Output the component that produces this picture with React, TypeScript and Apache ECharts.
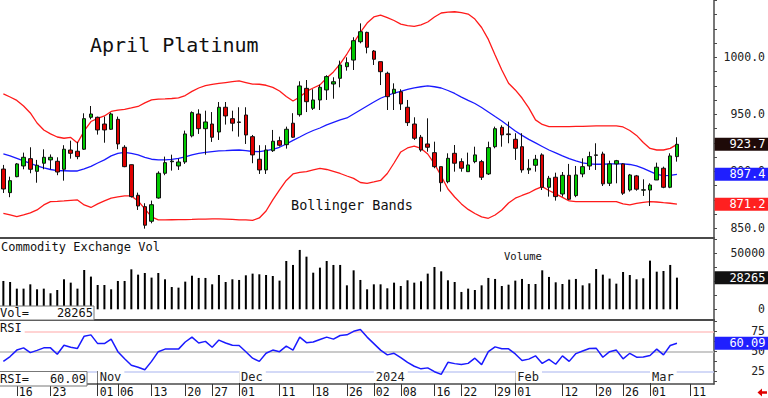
import React, { useEffect, useRef } from 'react';
import * as echarts from 'echarts';

const dates = [
  '2023-10-12','2023-10-13','2023-10-16','2023-10-17','2023-10-18','2023-10-19','2023-10-20','2023-10-23','2023-10-24','2023-10-25',
  '2023-10-26','2023-10-27','2023-10-30','2023-10-31','2023-11-01','2023-11-02','2023-11-03','2023-11-06','2023-11-07','2023-11-08',
  '2023-11-09','2023-11-10','2023-11-13','2023-11-14','2023-11-15','2023-11-16','2023-11-17','2023-11-20','2023-11-21','2023-11-22',
  '2023-11-24','2023-11-27','2023-11-28','2023-11-29','2023-11-30','2023-12-01','2023-12-04','2023-12-05','2023-12-06','2023-12-07',
  '2023-12-08','2023-12-11','2023-12-12','2023-12-13','2023-12-14','2023-12-15','2023-12-18','2023-12-19','2023-12-20','2023-12-21',
  '2023-12-22','2023-12-26','2023-12-27','2023-12-28','2023-12-29','2024-01-02','2024-01-03','2024-01-04','2024-01-05','2024-01-08',
  '2024-01-09','2024-01-10','2024-01-11','2024-01-12','2024-01-16','2024-01-17','2024-01-18','2024-01-19','2024-01-22','2024-01-23',
  '2024-01-24','2024-01-25','2024-01-26','2024-01-29','2024-01-30','2024-01-31','2024-02-01','2024-02-02','2024-02-05','2024-02-06',
  '2024-02-07','2024-02-08','2024-02-09','2024-02-12','2024-02-13','2024-02-14','2024-02-15','2024-02-16','2024-02-20','2024-02-21',
  '2024-02-22','2024-02-23','2024-02-26','2024-02-27','2024-02-28','2024-02-29','2024-03-01','2024-03-04','2024-03-05','2024-03-06',
  '2024-03-07','2024-03-08','2024-03-11','2024-03-12','2024-03-13','2024-03-14',
];

const openP = [
  902,881.3,895.3,904.7,911.1,900,907.1,910,908.8,901.8,
  918.7,917.6,919.4,947.4,947.4,941.5,936.9,945.6,921.1,905.8,
  879,869,856.2,876.6,898.3,908.4,904.7,908.2,931.1,950.3,
  937.4,941.5,934.5,956.2,946.2,943.3,949.4,930.4,910.6,901.2,
  918.1,926.9,923.4,942.2,949.7,972.8,955.3,962.6,971.4,976.6,
  981.6,991.8,997.6,1013.7,1021.9,1005.5,996.2,986,968.5,969.8,
  956.2,941.5,929.9,924,916.4,904.1,890.9,915.8,908.5,899.7,
  908.5,908.5,897.7,921.6,938.6,932.8,928.1,921.6,901.2,905.3,
  914.4,886,894.8,880.1,896.5,878.7,897.7,904.7,914,915.2,
  889.5,906.5,906.5,883.6,896,883.5,883.6,892.4,902.7,886,
  912.9,
];
const closeP = [
  884.5,891.8,906.5,912.3,901.8,905.3,912.3,912.3,899.4,919.4,
  915.8,912.9,946.2,950.3,936.3,936.3,950.3,924,904.1,877.8,
  869.6,852.7,870.7,898.3,907.6,909,908.2,932.8,951.5,937.4,
  943.3,929.9,956.2,948.6,942.2,942.9,931.9,914.4,901.2,918.7,
  926.4,922.9,936.9,929.9,974.9,961.1,962.6,973.7,983.1,978.6,
  993.3,995.3,1014.6,1022.5,1008.8,998.3,987.4,965.5,972,959.1,
  942.7,929,918.7,921.1,904.1,890,911.4,907.1,902.7,905.6,
  914.4,894.8,920.8,937.4,931.9,932.2,920.2,901.2,902.6,910.6,
  886,893.9,877.8,896.5,875.5,896.8,904.1,912.9,914.4,889,
  906.5,909.3,880.8,896.8,884.3,883.8,888,903.6,886,913.5,
  923.7,
];
const lowP = [
  881,877.3,894.8,901.8,898.3,890,901.8,901.8,896.6,891.8,
  911.1,910.6,918.7,945.6,932.2,925.1,936.3,919.4,903.6,877,
  866.1,849.7,854.4,876,896.6,900.6,901.2,906.5,929.8,932.8,
  914.6,925.8,927.5,941,935.1,930.4,924,907.1,897.7,897.7,
  917,921.7,919.9,929.3,948,952,953.8,953.8,962.6,963.7,
  973.7,988.3,988.9,1012.3,1003.5,993.3,975.7,953.8,953.8,953.8,
  939.8,927.5,917.2,917.2,902.7,882.2,889.5,899.7,899.7,899.7,
  907.1,892.4,896.8,920.2,921.6,924.6,910,898.8,897.7,899.7,
  883.6,877.8,874.3,877.8,874.9,877.3,894.8,901.2,901.2,887.1,
  887.1,889.5,879.3,882.2,883,878.4,869.6,892.4,885.2,885.2,
  908.5,
];
const highP = [
  905.6,895.3,907.3,916.4,921.1,910,919.3,914.8,912.3,922.9,
  926.9,925.8,950.9,957.3,948,948,951.5,948,922.9,906,
  881.3,872,874.3,900,912.9,914.6,911.1,935.7,952.6,954.4,
  953.2,952,960.8,960.8,953.2,956.2,956.2,931.9,922.9,922.9,
  936.3,930.4,939.2,951,979,980.1,972,976,984.3,982.5,
  997.1,1000,1017.6,1029.8,1022.5,1006.4,996.2,987.4,977.2,972,
  962.6,947.4,931.9,946.5,926,904.1,915.8,923.1,911.4,916.4,
  921.6,910,926,939.2,940.4,943.6,933.4,933.4,910.6,914.4,
  915.8,896,898.8,899.4,906.5,904.7,911.4,917.2,924.6,917.2,
  909.3,910,907.1,897.7,896.8,893,889.5,907.6,904.1,915.8,
  929.9,
];

const upperBand = [
  967.9,965.2,962.2,957.3,951.2,942.4,936.3,932.8,930.1,929,
  929.7,924.9,935.4,943.7,946.4,948.6,952.5,953.7,954.4,955.6,
  956.9,960,962.6,963.3,963.5,963.9,964.5,966.5,970.1,973.1,
  975.1,976.2,977.2,977.9,978.6,979.3,977.9,976.5,976.4,975.5,
  973.6,970.5,965.7,961.7,965.2,970.1,973.1,975.8,981.9,987.2,
  994.2,1002.9,1012.6,1021.8,1030.1,1035.4,1037.1,1034.9,1032.3,1029.2,
  1027.9,1027.1,1028.4,1031,1035.4,1038.9,1039.6,1040,1039.3,1038,
  1033.6,1026.2,1015.7,1002.1,988.9,977.2,971.4,964.3,955.6,945.1,
  941.1,939.2,939.2,939.2,939.2,939.4,939.5,939.7,939.8,939.8,
  939.8,939.8,938.9,935.8,931.5,925.3,920.1,918.7,918.7,920.1,
  923.6,
];
const middleBand = [
  915.2,913.5,911.3,909.1,906.9,904.7,903,901.6,900.6,900.5,
  900.3,900.3,902.1,904.3,907.3,910,913.5,915.7,916.7,915.7,
  914.4,912.3,910.6,910,910,910.4,911.3,912.6,914.4,915.7,
  916.6,917.3,917.9,918.1,918.5,918.7,918.1,917.4,917.3,918.1,
  919.2,921.1,924,927.1,930.1,933.2,935.8,938,940.7,942.9,
  945.1,946.8,950.3,953.8,957.3,960.8,964.1,966.5,968.7,970.2,
  971.8,973.3,974.2,974.9,974.2,973.1,970.9,968.3,965.1,962.2,
  959.5,956,952.1,948.1,944.2,939.8,935.4,931.5,928,924.9,
  921.8,918.7,916.1,913.5,911.1,909.1,907.5,906.5,906.2,906.2,
  906.5,906.5,906.5,906,904.7,902.5,899.9,897.3,896.2,896.4,
  897.4,
];
const lowerBand = [
  863.2,861.7,860.2,861.7,863.5,866.1,870.5,873.4,873.6,874,
  874.5,874.9,870.5,868.3,871.4,874,876.4,877.5,878.4,878.4,
  874,867,860,857.4,857.4,857.5,857.6,857.7,857.8,858,
  858.1,858.2,858.2,858,857.8,857.4,857.4,856.9,859.1,865.2,
  874.9,883.7,892,897.7,899,899.7,901.2,902.5,901.6,899.9,
  898.1,895.9,893.8,890.2,889.5,890.7,892,898.1,907.3,917,
  920.5,922,920.1,915.2,906.5,895.9,884.5,877.5,871.4,866.6,
  863,860,858.8,861.7,866.1,872.2,876.4,878.8,881,884.1,
  886.6,883.2,880.2,877.1,874,873.4,873.4,873.4,873.4,873.4,
  873.4,873.4,871.4,870.5,871.8,872.8,873.5,873.1,872.5,872,
  871.2,
];

const volumes = [
  25300,24400,18450,18450,22300,17860,18450,14300,17260,26800,
  23800,18450,35100,29200,21700,21700,17860,25300,25300,35700,
  30950,32400,28300,32400,26800,19900,19350,24700,30000,28000,
  28000,22300,30650,24400,26800,26200,30350,31850,31250,30650,
  29760,25600,43150,39600,53000,47000,32700,37200,43150,39600,
  39600,21400,34800,26200,17860,22300,22300,18750,23800,20800,
  25900,23800,25000,31850,37800,33900,25900,24400,15500,18450,
  17260,21400,28000,27100,20800,22000,25600,27100,22600,22600,
  34800,28900,24100,22600,26500,27100,21400,23200,36000,30950,
  27400,22900,33300,30650,26800,27700,43450,33600,34200,39600,
  28265,
];

const rsiValues = [
  37.5,43.5,51.6,54.4,48.4,51.2,54.4,54.4,46.4,57.7,
  55.2,53.6,69,70.6,59.7,59.7,65.3,49.6,40.7,32.6,
  30.2,27,37.5,49.6,52.8,52.8,52.8,61.7,67.8,60.5,
  62.5,55.2,64.1,60.5,57.7,57.3,49.6,41.5,37.5,47.6,
  51.6,49.6,56.5,51.6,67.8,60.9,61.7,64.9,67.8,65.3,
  69.8,70.6,75,77.4,67.8,59.7,51.6,45.6,47.6,42.3,
  36.3,31.4,28.2,29.4,24.6,21.3,36.3,34.7,33.5,35,
  41.5,33.5,49.6,55.6,53.2,53.2,46.8,38.7,40.3,44.4,
  35,39.9,33.9,44.4,37.5,47.2,50.4,53.6,54,42.7,
  49.6,51.6,40.7,47.6,42.7,43.1,44.8,52.8,45.6,57.3,
  60.09,
];

const dayLabelDates = [
  '2023-10-16','2023-10-23','2023-11-01','2023-11-06','2023-11-13','2023-11-20','2023-11-27',
  '2023-12-01','2023-12-11','2023-12-18','2023-12-26','2024-01-02','2024-01-08','2024-01-16',
  '2024-01-22','2024-01-29','2024-02-01','2024-02-12','2024-02-20','2024-02-26','2024-03-01','2024-03-11',
];
const monthStartDates = ['2023-11-01','2023-12-01','2024-01-02','2024-02-01','2024-03-01'];
const monthNames = ['Nov','Dec','2024','Feb','Mar'];

const priceLabels = [850, 900, 950, 1000];
const priceTicks = [850,862.5,875,887.5,900,912.5,925,937.5,950,962.5,975,987.5,1000,1012.5,1025,1037.5,1050];
const volumeLabels = [0, 50000];
const volumeTicks = [0, 12500, 25000, 37500, 50000, 62500];
const rsiLabels = [25, 50, 75];
const rsiTicks = [12.5, 25, 37.5, 50, 62.5, 75, 87.5];

const MONO = '"DejaVu Sans Mono", monospace';
const AXIS_COLOR = '#4a4a4a';
const GRID_LEFT = -3;
const GRID_RIGHT = 53.4;
const BOX_X = 714.6;

export default function App() {
  const ref = useRef<HTMLDivElement>(null);
  useEffect(() => {
    document.body.style.margin = '0';
    const chart = echarts.init(ref.current as HTMLDivElement, null, { renderer: 'svg' });
    const daySet = new Set(dayLabelDates);
    const monthMap = new Map(monthStartDates.map((d, i) => [d, monthNames[i]]));
    const candles = openP.map((o, i) => [o, closeP[i], lowP[i], highP[i]]);

    const hiddenX = (gridIndex: number) => ({
      type: 'category', gridIndex, data: dates, boundaryGap: true,
      axisLine: { show: true, onZero: false, lineStyle: { color: AXIS_COLOR, width: 2 } },
      axisTick: { show: false }, axisLabel: { show: false }, splitLine: { show: false },
    });
    const rightY = (gridIndex: number, min: number, max: number, ticks: number[], labels: number[], fmt: (v: number) => string) => ({
      type: 'value', gridIndex, position: 'right', min, max, scale: true,
      axisLine: { show: true, lineStyle: { color: AXIS_COLOR, width: 1.5 } },
      axisTick: { show: true, customValues: ticks, length: 3, lineStyle: { color: AXIS_COLOR } },
      axisLabel: { customValues: labels, formatter: fmt, align: 'right', margin: 51, fontFamily: MONO, fontSize: 11.5, color: '#222' },
      splitLine: { show: false },
    });

    const option: any = {
      animation: false,
      textStyle: { fontFamily: MONO },
      grid: [
        { left: GRID_LEFT, right: GRID_RIGHT, top: 0, height: 238 },
        { left: GRID_LEFT, right: GRID_RIGHT, top: 239, height: 81 },
        { left: GRID_LEFT, right: GRID_RIGHT, top: 320, height: 66 },
      ],
      xAxis: [
        hiddenX(0),
        hiddenX(1),
        {
          type: 'category', gridIndex: 2, data: dates, boundaryGap: true, position: 'bottom',
          axisLine: { show: true, onZero: false, lineStyle: { color: AXIS_COLOR, width: 1.5 } },
          axisTick: { show: true, alignWithLabel: true, length: 12, interval: (_i: number, v: string) => daySet.has(v), lineStyle: { color: '#333' } },
          axisLabel: {
            interval: (_i: number, v: string) => daySet.has(v), formatter: (v: string) => v.slice(8, 10),
            align: 'left', padding: [0, 0, 0, 2], margin: 2, fontFamily: MONO, fontSize: 11.5, color: '#111',
          },
          splitLine: { show: false },
        },
        {
          type: 'category', gridIndex: 2, data: dates, boundaryGap: true, position: 'bottom', z: 10,
          axisLine: { show: false, onZero: false },
          axisTick: { show: true, inside: true, alignWithLabel: true, length: 13, interval: (_i: number, v: string) => monthMap.has(v), lineStyle: { color: '#333' } },
          axisLabel: {
            inside: true, interval: (_i: number, v: string) => monthMap.has(v), formatter: (v: string) => monthMap.get(v) || '',
            align: 'left', margin: 1, backgroundColor: '#fff', padding: [1, 3, 0, 2], fontFamily: MONO, fontSize: 12, color: '#222',
          },
          splitLine: { show: false },
        },
      ],
      yAxis: [
        rightY(0, 841.5, 1050.3, priceTicks, priceLabels, (v: number) => v.toFixed(1)),
        rightY(1, -9550, 62770, volumeTicks, volumeLabels, (v: number) => String(v)),
        rightY(2, 9.26, 89.16, rsiTicks, rsiLabels, (v: number) => String(v)),
      ],
      series: [
        { name: 'Upper', type: 'line', xAxisIndex: 0, yAxisIndex: 0, data: upperBand, showSymbol: false, lineStyle: { color: '#ff1a1a', width: 1.3 }, z: 2 },
        { name: 'Middle', type: 'line', xAxisIndex: 0, yAxisIndex: 0, data: middleBand, showSymbol: false, lineStyle: { color: '#1a1aff', width: 1.3 }, z: 2 },
        { name: 'Lower', type: 'line', xAxisIndex: 0, yAxisIndex: 0, data: lowerBand, showSymbol: false, lineStyle: { color: '#ff1a1a', width: 1.3 }, z: 2 },
        {
          name: 'Platinum', type: 'candlestick', xAxisIndex: 0, yAxisIndex: 0, data: candles, barWidth: 4, z: 3,
          itemStyle: { color: '#00c800', color0: '#e00000', borderColor: '#111', borderColor0: '#111', borderWidth: 1 },
        },
        { name: 'Volume', type: 'bar', xAxisIndex: 1, yAxisIndex: 1, data: volumes, barWidth: 2, itemStyle: { color: '#000' } },
        {
          name: 'RSI', type: 'line', xAxisIndex: 2, yAxisIndex: 2, data: rsiValues, showSymbol: false,
          lineStyle: { color: '#1a1aff', width: 1.5 }, z: 3,
          markLine: {
            silent: true, symbol: 'none', label: { show: false }, z: 1,
            data: [
              { yAxis: 75, lineStyle: { color: '#ffc4c4', width: 1.5, type: 'solid' } },
              { yAxis: 50, lineStyle: { color: '#b8b8b8', width: 1.5, type: 'solid' } },
              { yAxis: 25, lineStyle: { color: '#c4ccf4', width: 1.5, type: 'solid' } },
            ],
          },
        },
      ],
    };
    chart.setOption(option);

    const py = (axis: number, v: number) => chart.convertToPixel({ yAxisIndex: axis } as any, v) as unknown as number;
    const txt = (text: string, x: number, y: number, size: number, fill: string, align = 'left', extra: any = {}) => ({
      type: 'text', z: 100,
      style: { text, x, y, fill, fontFamily: MONO, fontSize: size, align, textAlign: align, verticalAlign: 'middle', textVerticalAlign: 'middle', ...extra },
    });
    const valueBox = (y: number, label: string, bg: string) => ([
      { type: 'rect', z: 99, shape: { x: BOX_X, y: y - 6.5, width: 768 - BOX_X, height: 13 }, style: { fill: bg } },
      txt(label, 765.5, y, 12, '#fff', 'right'),
    ]);
    const lastClose = closeP[closeP.length - 1];
    const lastMid = middleBand[middleBand.length - 1];
    const lastLow = lowerBand[lowerBand.length - 1];
    const lastVol = volumes[volumes.length - 1];
    const lastRsi = rsiValues[rsiValues.length - 1];

    const graphic: any[] = [
      txt('April Platinum', 90, 45, 20, '#111'),
      txt('Bollinger Bands', 291, 205, 13.5, '#111'),
      txt('Commodity Exchange Vol', 1, 247, 12, '#111'),
      txt('Volume', 504, 256, 10.5, '#111'),
      { type: 'rect', z: 99, shape: { x: -1, y: 306, width: 95, height: 14 }, style: { fill: '#fff', stroke: '#777', lineWidth: 1 } },
      txt('Vol=', 0, 313, 12, '#111'),
      txt(String(lastVol), 93, 313, 12, '#111', 'right'),
      txt('RSI', 0, 328, 12, '#111', 'left', { backgroundColor: '#fff', padding: [0, 3, 0, 0] }),
      { type: 'rect', z: 99, shape: { x: -1, y: 371.5, width: 88, height: 14.5 }, style: { fill: '#fff', stroke: '#777', lineWidth: 1 } },
      txt('RSI=', 0, 379, 12, '#111'),
      txt(lastRsi.toFixed(2), 86, 379, 12, '#111', 'right'),
      ...valueBox(py(0, lastClose), lastClose.toFixed(1), '#1e0a08'),
      ...valueBox(py(0, lastMid), lastMid.toFixed(1), '#1f1fff'),
      ...valueBox(py(0, lastLow), lastLow.toFixed(1), '#ff2020'),
      ...valueBox(py(1, lastVol), String(lastVol), '#111'),
      ...valueBox(py(2, lastRsi), lastRsi.toFixed(2), '#1f1fff'),
      {
        type: 'polygon', z: 100,
        shape: { points: [[757.5, 392.5], [762, 388.5], [762, 391.2], [767, 391.2], [767, 393.8], [762, 393.8], [762, 396.5]] },
        style: { fill: '#e00000' },
      },
    ];
    chart.setOption({ graphic });
    return () => chart.dispose();
  }, []);
  return <div ref={ref} style={{ width: 768, height: 398 }} />;
}
